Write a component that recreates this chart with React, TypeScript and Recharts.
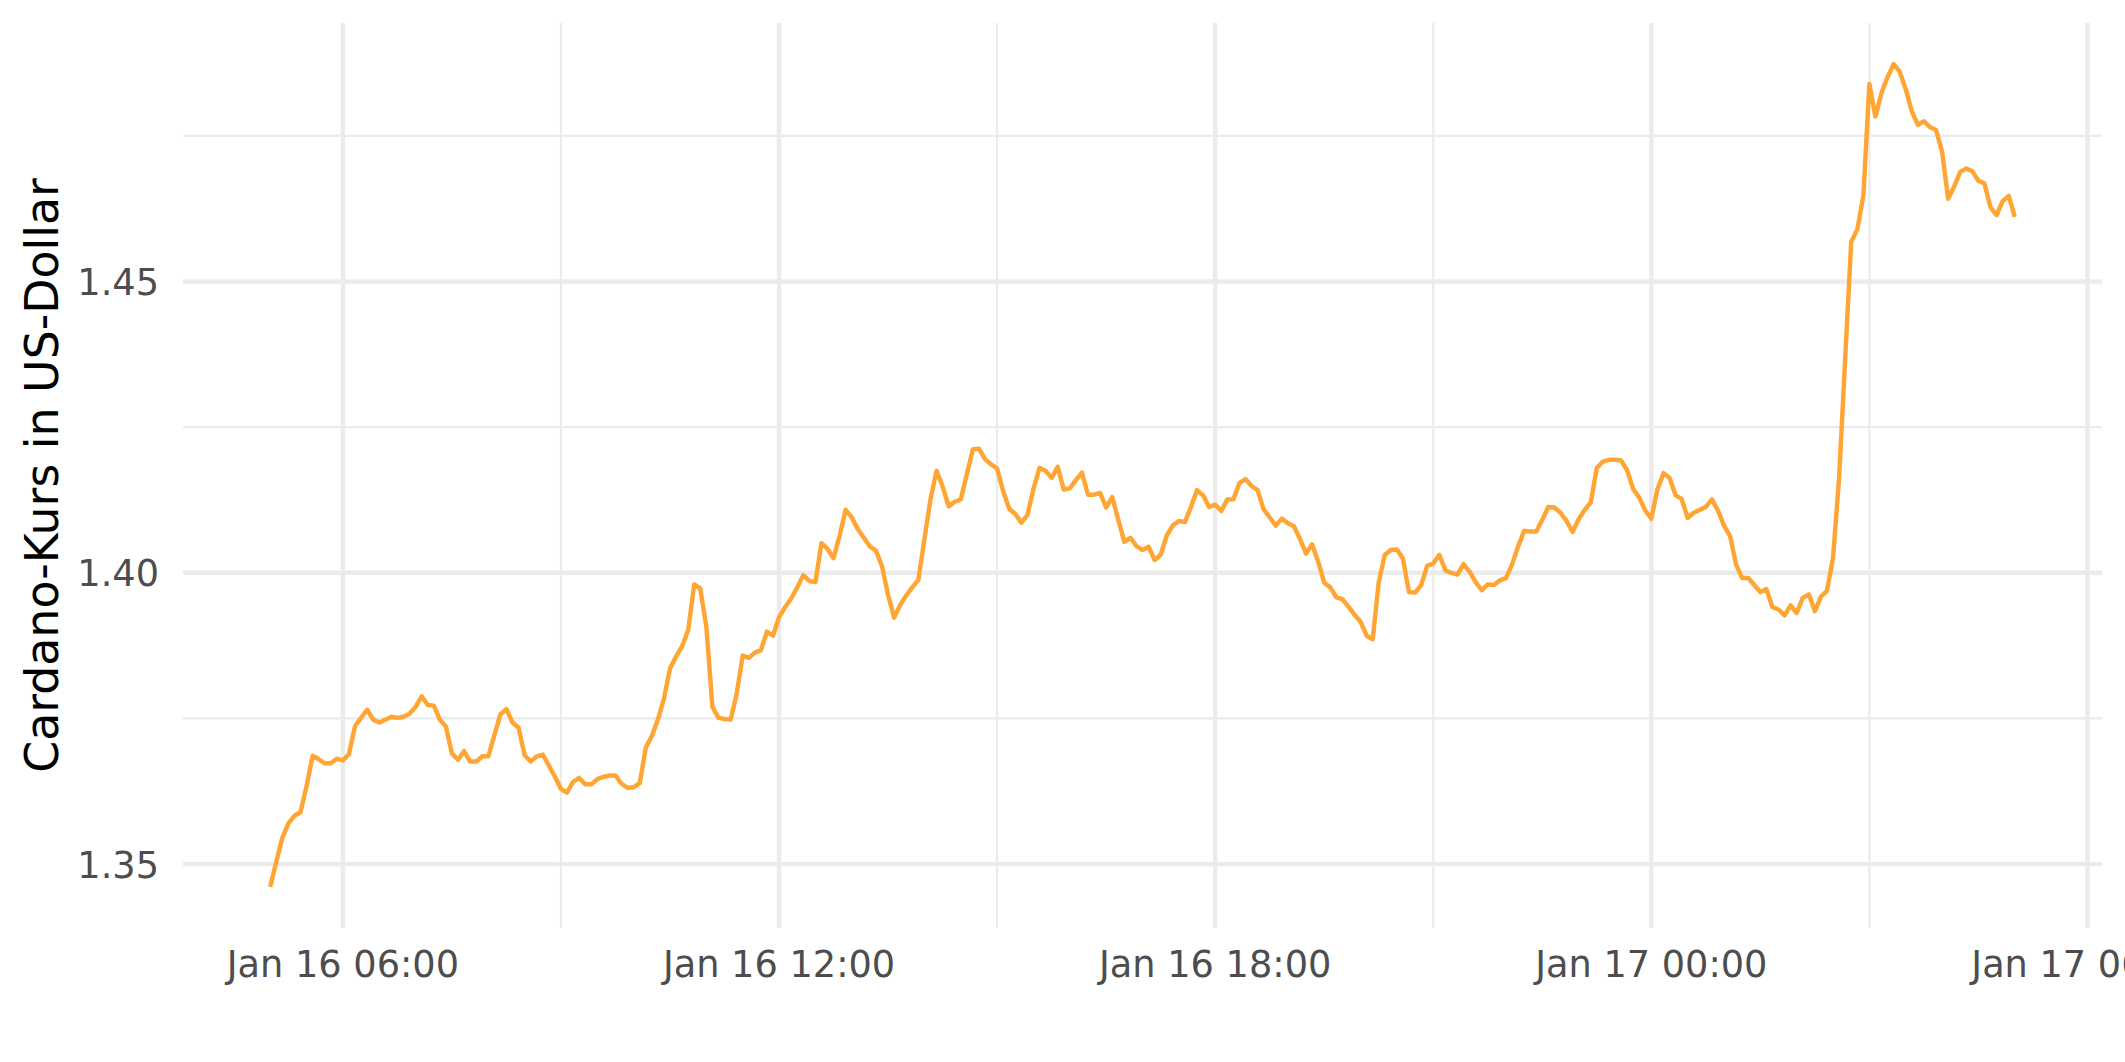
import React from 'react';
import { LineChart, Line, XAxis, YAxis, CartesianGrid } from 'recharts';

// Cardano price in USD, one sample every 5 minutes, Jan 16 05:00 -> Jan 17 05:00
const firstSampleMinute = 5 * 60; // minutes after Jan 16 00:00
const sampleStepMinutes = 5;

// 05:00 - 10:55
const pricesJan16Morning = [
  1.3461, 1.3504, 1.3545, 1.357, 1.3583, 1.3589, 1.3634, 1.3686, 1.368, 1.3673, 1.3673, 1.3681,
  1.3678, 1.3689, 1.3737, 1.3751, 1.3765, 1.3748, 1.3743, 1.3748, 1.3753, 1.3751, 1.3753, 1.3758,
  1.377, 1.3788, 1.3773, 1.3772, 1.3748, 1.3736, 1.369, 1.3679, 1.3694, 1.3676, 1.3676, 1.3685,
  1.3685, 1.3721, 1.3757, 1.3766, 1.3743, 1.3734, 1.3687, 1.3676, 1.3685, 1.3688, 1.3669, 1.365,
  1.3629, 1.3623, 1.3641, 1.3648, 1.3637, 1.3637, 1.3646, 1.365, 1.3652, 1.3652, 1.3638, 1.3631,
  1.3632, 1.3639, 1.37, 1.372, 1.3748, 1.3784, 1.3836, 1.3856, 1.3874, 1.3902, 1.398, 1.3973,
];
// 11:00 - 16:55
const pricesJan16Midday = [
  1.3907, 1.377, 1.3751, 1.3749, 1.3748, 1.3792, 1.3858, 1.3854, 1.3863, 1.3867, 1.3899, 1.3892,
  1.3924, 1.3941, 1.3956, 1.3975, 1.3996, 1.3986, 1.3984, 1.4051, 1.4041, 1.4025, 1.4064, 1.4108,
  1.4095, 1.4075, 1.406, 1.4045, 1.4038, 1.4011, 1.3962, 1.3923, 1.3945, 1.3961, 1.3975, 1.3988,
  1.4058, 1.4126, 1.4175, 1.4148, 1.4114, 1.4122, 1.4126, 1.4169, 1.4212, 1.4213, 1.4195, 1.4186,
  1.4179, 1.414, 1.411, 1.4101, 1.4086, 1.4099, 1.4144, 1.418, 1.4175, 1.4163, 1.4182, 1.4143,
  1.4145, 1.4159, 1.4172, 1.4134, 1.4134, 1.4137, 1.4112, 1.413, 1.4091, 1.4053, 1.406, 1.4046,
];
// 17:00 - 22:55
const pricesJan16Evening = [
  1.4039, 1.4045, 1.4022, 1.4031, 1.4064, 1.4081, 1.4089, 1.4087, 1.4113, 1.4142, 1.4133, 1.4113,
  1.4117, 1.4106, 1.4126, 1.4126, 1.4154, 1.4161, 1.4149, 1.4142, 1.4109, 1.4095, 1.4081, 1.4093,
  1.4085, 1.408, 1.4058, 1.4033, 1.4049, 1.4019, 1.3983, 1.3975, 1.3958, 1.3955, 1.3942, 1.3928,
  1.3916, 1.3892, 1.3886, 1.3984, 1.4031, 1.4039, 1.404, 1.4024, 1.3967, 1.3966, 1.3979, 1.4012,
  1.4016, 1.4031, 1.4004, 1.4, 1.3997, 1.4015, 1.4002, 1.3984, 1.397, 1.398, 1.3979, 1.3987,
  1.3991, 1.4014, 1.4045, 1.4072, 1.4071, 1.4071, 1.4091, 1.4113, 1.4112, 1.4103, 1.4089, 1.407,
];
// 23:00 - Jan 17 05:00
const pricesJan17Night = [
  1.4092, 1.4108, 1.4121, 1.418, 1.4191, 1.4194, 1.4194, 1.4193, 1.4176, 1.4144, 1.4129, 1.4107,
  1.4093, 1.4143, 1.4171, 1.4163, 1.4133, 1.4127, 1.4094, 1.4103, 1.4108, 1.4113, 1.4126, 1.4107,
  1.4081, 1.4063, 1.4014, 1.3991, 1.3991, 1.3979, 1.3967, 1.3972, 1.3941, 1.3937, 1.3927, 1.3944,
  1.3931, 1.3957, 1.3963, 1.3934, 1.3959, 1.3969, 1.4026, 1.4163, 1.4367, 1.4568, 1.4589, 1.4647,
  1.4839, 1.4783, 1.4824, 1.4851, 1.4873, 1.486, 1.483, 1.4792, 1.4769, 1.4775, 1.4765, 1.476,
  1.4723, 1.4642, 1.4663, 1.4688, 1.4694, 1.4689, 1.4673, 1.4668, 1.4627, 1.4614, 1.4638, 1.4647,
  1.4611,
];

const xTickMinutes = [360, 720, 1080, 1440, 1800];
const xTickLabels = ['Jan 16 06:00', 'Jan 16 12:00', 'Jan 16 18:00', 'Jan 17 00:00', 'Jan 17 06:00'];
const xMinorMinutes = [540, 900, 1260, 1620];
const yTicks = [1.35, 1.4, 1.45];
const yTickLabels = ['1.35', '1.40', '1.45'];
const yMinorTicks = [1.375, 1.425, 1.475];
const yTitle = 'Cardano-Kurs in US-Dollar';

const prices = [...pricesJan16Morning, ...pricesJan16Midday, ...pricesJan16Evening, ...pricesJan17Night];
const data = prices.map((price, i) => ({
  minute: firstSampleMinute + i * sampleStepMinutes,
  price,
}));

// ggplot-style 5% expansion of the data range
const expand = (lo: number, hi: number): [number, number] => {
  const pad = (hi - lo) * 0.05;
  return [lo - pad, hi + pad];
};
const xDomain = expand(data[0].minute, data[data.length - 1].minute);
const yDomain = expand(Math.min(...prices), Math.max(...prices));

const FONT = 'DejaVu Sans';
const TICK_SIZE = 36.7;
const GRID = '#EBEBEB';

const XTick = (props: any) => {
  const { x, y, payload } = props;
  const label = xTickLabels[xTickMinutes.indexOf(payload.value)];
  return (
    <text x={x} y={y} dy={49} textAnchor="middle" fill="#4D4D4D" fontSize={TICK_SIZE} fontFamily={FONT}>
      {label}
    </text>
  );
};

const YTick = (props: any) => {
  const { x, y, payload } = props;
  const label = yTickLabels[yTicks.indexOf(payload.value)];
  return (
    <text x={x} y={y} dx={-24} dy={13.5} textAnchor="end" fill="#4D4D4D" fontSize={TICK_SIZE} fontFamily={FONT}>
      {label}
    </text>
  );
};

const YTitle = (props: any) => {
  const vb = props.viewBox || { y: 23, height: 905 };
  const cx = 58;
  const cy = vb.y + vb.height / 2;
  return (
    <text
      x={cx}
      y={cy}
      textAnchor="middle"
      transform={`rotate(-90 ${cx} ${cy})`}
      fill="#000000"
      fontSize={45.8}
      fontFamily={FONT}
    >
      {yTitle}
    </text>
  );
};

export default function App() {
  return (
    <div
      style={{
        position: 'absolute',
        left: 0,
        top: 0,
        width: 2125,
        height: 1062,
        overflow: 'hidden',
        background: '#ffffff',
      }}
    >
      <LineChart width={2125} height={1062} data={data} margin={{ top: 23, right: 23, bottom: 0, left: 0 }}>
        <CartesianGrid
          stroke={GRID}
          strokeWidth={2.2}
          horizontalValues={yMinorTicks}
          verticalValues={xMinorMinutes}
        />
        <CartesianGrid
          stroke={GRID}
          strokeWidth={4.45}
          horizontalValues={yTicks}
          verticalValues={xTickMinutes}
        />
        <XAxis
          dataKey="minute"
          type="number"
          domain={xDomain}
          allowDataOverflow
          ticks={xTickMinutes}
          interval={0}
          height={134}
          tickSize={0}
          tickMargin={0}
          axisLine={false}
          tickLine={false}
          tick={<XTick />}
        />
        <YAxis
          type="number"
          domain={yDomain}
          allowDataOverflow
          ticks={yTicks}
          interval={0}
          width={183}
          tickSize={0}
          tickMargin={0}
          axisLine={false}
          tickLine={false}
          tick={<YTick />}
          label={<YTitle />}
        />
        <Line
          type="linear"
          dataKey="price"
          stroke="#FFA533"
          strokeWidth={4.45}
          strokeLinejoin="round"
          dot={false}
          activeDot={false}
          isAnimationActive={false}
        />
      </LineChart>
    </div>
  );
}
